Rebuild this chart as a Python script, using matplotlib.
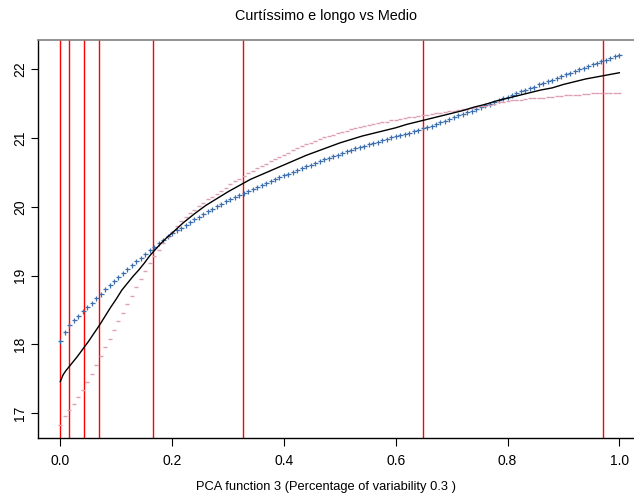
import numpy as np
import matplotlib
matplotlib.use('Agg')
import matplotlib.pyplot as plt

plt.rcParams['font.family'] = ['Liberation Sans', 'DejaVu Sans']

# grid of the functional argument (126 evaluation points)
argvals = np.linspace(0, 1, 126)

# mean + harmonic (blue '+')
plus_vals = [
    18.05, 18.18, 18.29, 18.36, 18.42, 18.48, 18.55, 18.61, 18.68, 18.74,
    18.80, 18.86, 18.92, 18.98, 19.04, 19.09, 19.15, 19.21, 19.26, 19.32,
    19.37, 19.42, 19.47, 19.52, 19.57, 19.62, 19.66, 19.70, 19.74, 19.78,
    19.82, 19.86, 19.90, 19.94, 19.97, 20.01, 20.04, 20.08, 20.11, 20.14,
    20.17, 20.20, 20.23, 20.26, 20.29, 20.32, 20.35, 20.38, 20.40, 20.43,
    20.46, 20.48, 20.51, 20.54, 20.56, 20.59, 20.61, 20.64, 20.66, 20.69,
    20.71, 20.74, 20.76, 20.79, 20.81, 20.83, 20.85, 20.87, 20.89, 20.91,
    20.93, 20.95, 20.97, 20.99, 21.01, 21.03, 21.05, 21.06, 21.08, 21.10,
    21.12, 21.14, 21.16, 21.18, 21.21, 21.23, 21.25, 21.28, 21.30, 21.33,
    21.35, 21.38, 21.40, 21.43, 21.45, 21.48, 21.50, 21.53, 21.55, 21.58,
    21.60, 21.63, 21.65, 21.68, 21.70, 21.73, 21.75, 21.78, 21.80, 21.83,
    21.85, 21.88, 21.90, 21.93, 21.95, 21.98, 22.00, 22.02, 22.05, 22.07,
    22.09, 22.12, 22.14, 22.16, 22.19, 22.21,
]

# mean - harmonic (pink '-')
minus_vals = [
    16.83, 16.96, 17.05, 17.14, 17.24, 17.34, 17.46, 17.57, 17.70, 17.83,
    17.96, 18.08, 18.21, 18.34, 18.46, 18.59, 18.71, 18.83, 18.95, 19.07,
    19.19, 19.29, 19.38, 19.48, 19.56, 19.64, 19.72, 19.79, 19.85, 19.91,
    19.96, 20.01, 20.06, 20.11, 20.15, 20.19, 20.23, 20.28, 20.33, 20.37,
    20.41, 20.45, 20.49, 20.52, 20.56, 20.60, 20.63, 20.67, 20.70, 20.73,
    20.76, 20.79, 20.82, 20.85, 20.88, 20.91, 20.93, 20.96, 20.98, 21.01,
    21.03, 21.05, 21.07, 21.09, 21.11, 21.13, 21.14, 21.16, 21.17, 21.19,
    21.20, 21.22, 21.23, 21.24, 21.26, 21.27, 21.28, 21.29, 21.30, 21.31,
    21.32, 21.33, 21.34, 21.35, 21.36, 21.37, 21.38, 21.39, 21.40, 21.41,
    21.42, 21.43, 21.44, 21.45, 21.46, 21.47, 21.48, 21.50, 21.52, 21.53,
    21.54, 21.55, 21.56, 21.56, 21.57, 21.58, 21.58, 21.59, 21.59, 21.60,
    21.60, 21.61, 21.61, 21.62, 21.62, 21.63, 21.63, 21.64, 21.64, 21.65,
    21.65, 21.65, 21.66, 21.66, 21.66, 21.66,
]

# mean function (black line)
mean_x = [0.0, 0.005, 0.01, 0.015, 0.02, 0.03, 0.04, 0.05, 0.06, 0.07,
          0.08, 0.09, 0.10, 0.11, 0.12, 0.13, 0.14, 0.15, 0.16, 0.17,
          0.18, 0.19, 0.20, 0.22, 0.24, 0.26, 0.28, 0.30, 0.32, 0.34,
          0.36, 0.38, 0.40, 0.42, 0.44, 0.46, 0.48, 0.50, 0.52, 0.54,
          0.56, 0.58, 0.60, 0.62, 0.64, 0.66, 0.68, 0.70, 0.72, 0.74,
          0.76, 0.78, 0.80, 0.82, 0.84, 0.86, 0.88, 0.90, 0.92, 0.94,
          0.96, 0.98, 1.0]
mean_y = [17.46, 17.56, 17.62, 17.67, 17.72, 17.82, 17.93, 18.04, 18.16, 18.28,
          18.41, 18.54, 18.66, 18.79, 18.89, 18.99, 19.08, 19.18, 19.29, 19.38,
          19.47, 19.55, 19.62, 19.77, 19.90, 20.02, 20.12, 20.22, 20.31, 20.40,
          20.47, 20.54, 20.61, 20.68, 20.75, 20.81, 20.87, 20.93, 20.98, 21.03,
          21.07, 21.11, 21.15, 21.20, 21.24, 21.28, 21.32, 21.36, 21.40, 21.45,
          21.49, 21.54, 21.58, 21.62, 21.66, 21.70, 21.73, 21.78, 21.82, 21.86,
          21.89, 21.92, 21.95]

# red reference lines
vlines_x = [0.0, 0.015, 0.042, 0.070, 0.165, 0.326, 0.648, 0.970]

title = 'Curtíssimo e longo vs Medio'
xlabel = 'PCA function 3 (Percentage of variability 0.3 )'

W, H = 634, 497
fig = plt.figure(figsize=(W / 100, H / 100), dpi=100)
ax = fig.add_axes([38.3 / W, 59.3 / H, 603.4 / W, 397.7 / H])

for xv in vlines_x:
    ax.axvline(xv, color='red', lw=1.0, zorder=1)

ax.plot(mean_x, mean_y, color='black', lw=1.0, zorder=3)
ax.plot(argvals, plus_vals, ls='none', marker='+', ms=3.6, mew=0.9,
        color='#3d6fae', zorder=2)
ax.plot(argvals, minus_vals, ls='none', marker='_', ms=2.6, mew=1.0,
        color='#dc9fb4', zorder=2)

ax.set_xlim(-0.0394, 1.04)
ax.set_ylim(16.645, 22.426)
ax.set_xticks([0.0, 0.2, 0.4, 0.6, 0.8, 1.0])
ax.set_xticklabels(['0.0', '0.2', '0.4', '0.6', '0.8', '1.0'])
ax.set_yticks([17, 18, 19, 20, 21, 22])

ax.spines['right'].set_visible(False)
ax.spines['top'].set_color('#808080')
ax.spines['top'].set_linewidth(1.2)
ax.spines['left'].set_linewidth(1.0)
ax.spines['bottom'].set_linewidth(1.0)

ax.tick_params(axis='both', direction='out', length=5.4, width=0.8,
               labelsize=10, colors='black')
ax.tick_params(axis='x', pad=6)
ax.tick_params(axis='y', pad=2.5, labelrotation=90)
for lab in ax.get_yticklabels():
    lab.set_va('center')

fig.text(326 / W, 1 - 16 / H, title, ha='center', va='center', fontsize=10.4)
fig.text(326 / W, 1 - 487 / H, xlabel, ha='center', va='center', fontsize=9.3)

fig.savefig('out.png', dpi=100)
